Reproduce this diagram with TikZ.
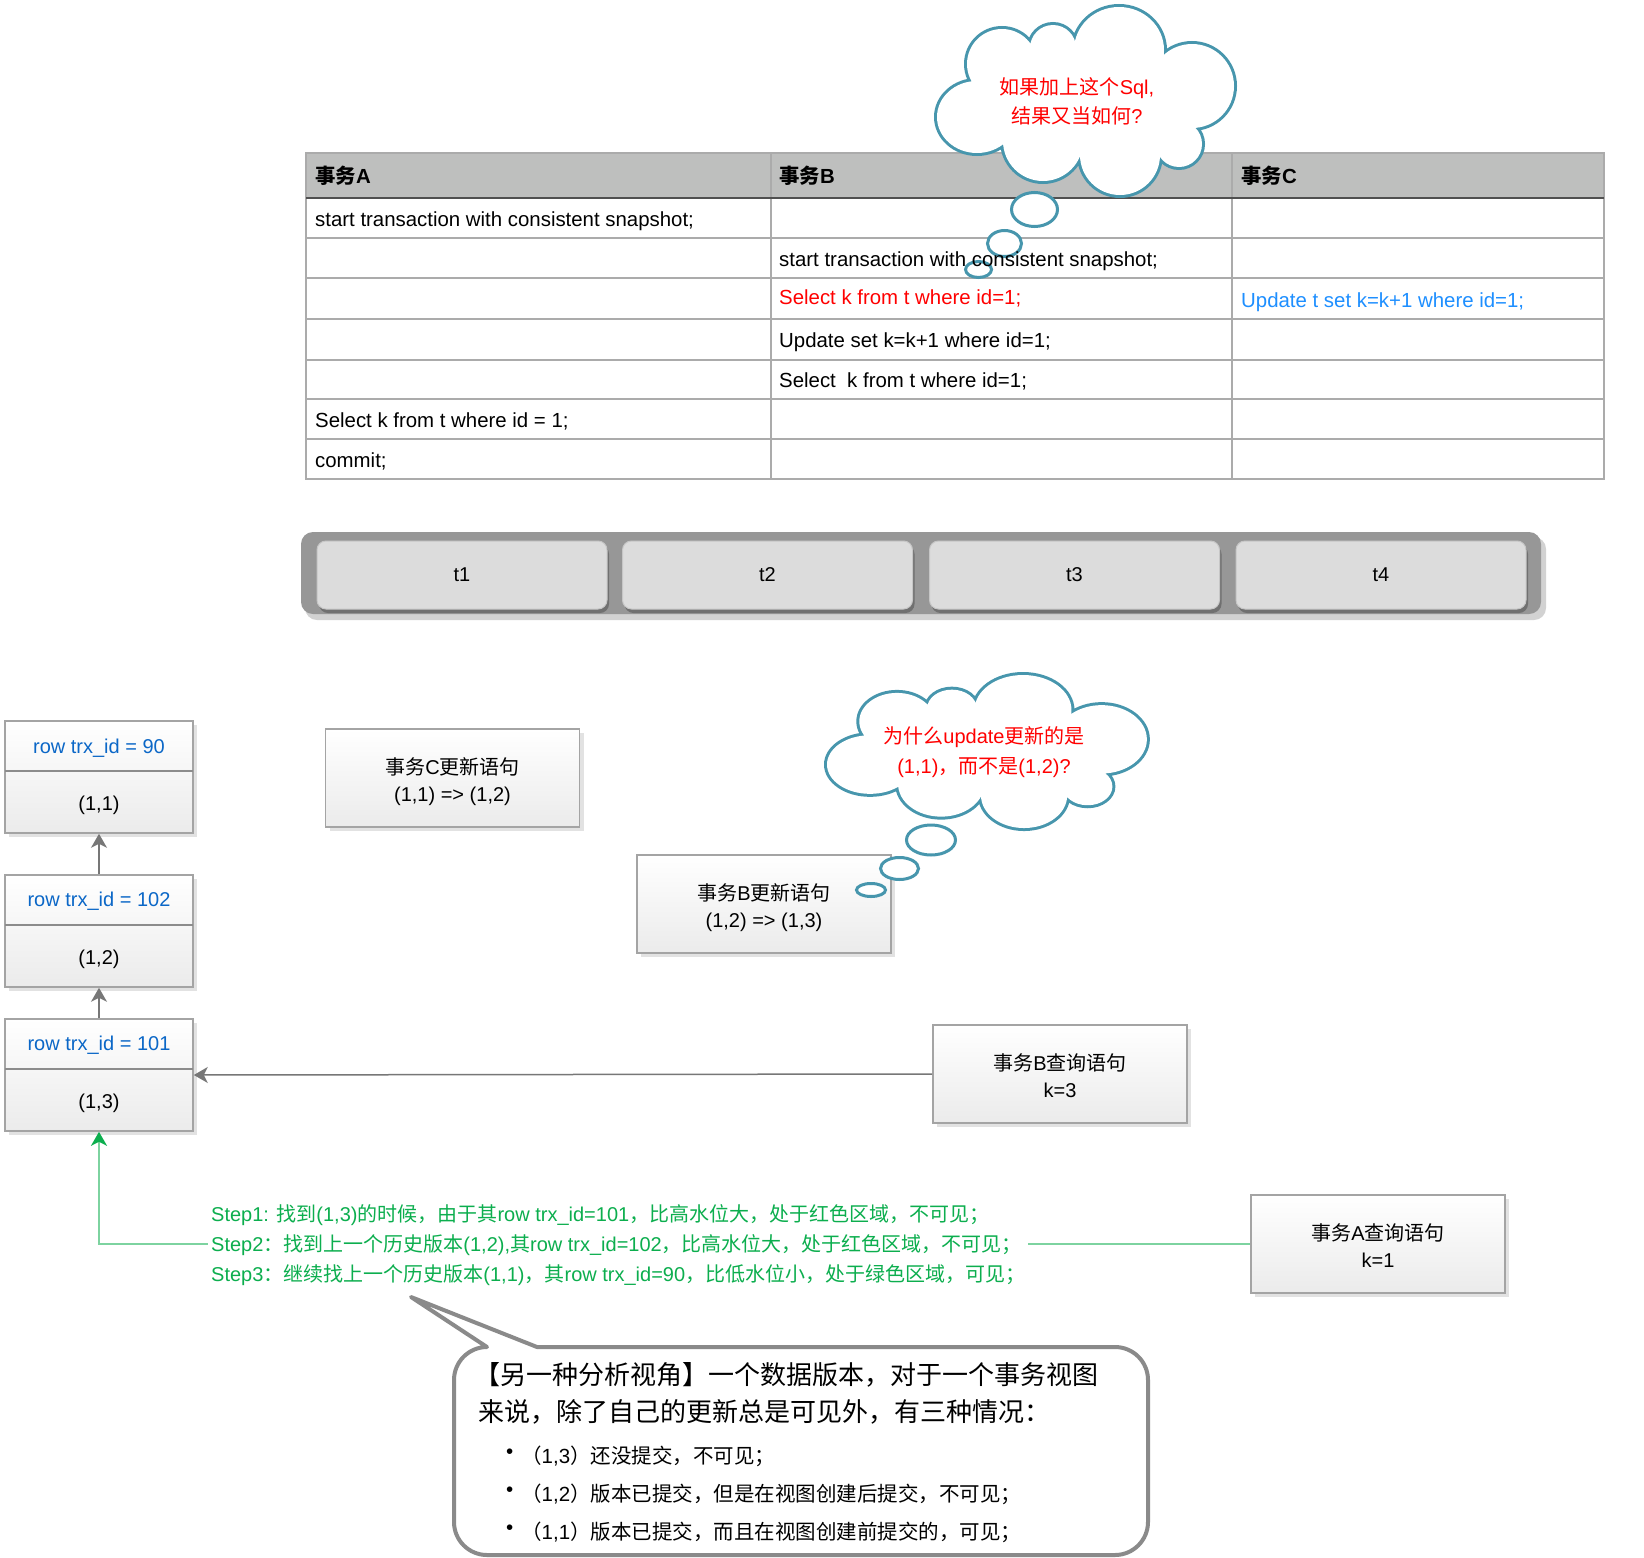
\documentclass[tikz,border=0pt]{standalone}
\usepackage{fontspec}
\setmainfont{Liberation Sans}
\newfontfamily\cjkfont{Noto Sans CJK SC}
\usetikzlibrary{arrows.meta,shadows}

\XeTeXinterchartokenstate=1
\chardef\CJKcls=10
\newcount\cjkcnt
\def\setcjkrange#1#2{\cjkcnt=#1\relax
  \loop\XeTeXcharclass\cjkcnt=\CJKcls\relax
    \advance\cjkcnt by 1\relax
  \ifnum\cjkcnt<#2\relax\repeat}
\setcjkrange{"4E00}{"A000}
\setcjkrange{"3000}{"3040}
\setcjkrange{"FF00}{"FFF0}
\XeTeXinterchartoks 0 \CJKcls = {\cjkfont}
\XeTeXinterchartoks 4095 \CJKcls = {\cjkfont}
\XeTeXinterchartoks \CJKcls 0 = {\rmfamily}
\XeTeXinterchartoks \CJKcls 4095 = {\rmfamily}

\definecolor{headgray}{HTML}{BEBFBE}
\definecolor{tlinec}{HTML}{ABABAB}
\definecolor{headline}{HTML}{505050}
\definecolor{cloudc}{HTML}{4796AD}
\definecolor{qred}{HTML}{FF0000}
\definecolor{qblue}{HTML}{1E8FFF}
\definecolor{vblue}{HTML}{0B67C7}
\definecolor{sgreen}{HTML}{0CAE4E}
\definecolor{lgreen}{HTML}{7DD3A0}
\definecolor{boxborder}{HTML}{A4A4A4}
\definecolor{boxbot}{HTML}{EBEBEB}
\definecolor{shadowc}{HTML}{E2E2E2}
\definecolor{agray}{HTML}{777777}
\definecolor{barc}{HTML}{979797}
\definecolor{barsh}{HTML}{D2D2D2}
\definecolor{btnc}{HTML}{DCDCDC}
\definecolor{btnedge}{HTML}{C6C6C6}
\definecolor{btnsh}{HTML}{707070}
\definecolor{callc}{HTML}{8A8A8A}
\definecolor{divc}{HTML}{8C8C8C}

\newcommand\cloudlobes{%
  (40,110) ellipse [x radius=40, y radius=36]
  (65,57) circle [radius=35]
  (116,41) circle [radius=23]
  (182,43) ellipse [x radius=45, y radius=43]
  (255,79) circle [radius=42]
  (242,137) circle [radius=23]
  (183,148) circle [radius=40]
  (106,134) circle [radius=40]}

\tikzset{
  cell/.style={anchor=west, inner sep=0pt, text height=14.5pt, text depth=4.5pt, font=\fontsize{20.4}{24}\selectfont},
  cellh/.style={cell, font=\fontsize{20.4}{24}\selectfont\bfseries},
  tline/.style={draw=tlinec, line width=1.2pt},
  bubble/.style={draw=cloudc, line width=3pt, fill=white},
  cloudtext/.style={text=qred, align=center, font=\fontsize{20}{29}\selectfont},
  boxshadow/.style={drop shadow={shadow xshift=4pt, shadow yshift=-4pt, fill=shadowc, opacity=1}},
  stmt/.style={draw=boxborder, line width=1.6pt, top color=white, bottom color=boxbot, minimum width=254pt, minimum height=98pt, align=center, text height=50pt, text depth=4pt, font=\fontsize{20}{27}\selectfont, boxshadow},
  ver/.style={draw=boxborder, line width=1.6pt, top color=white, bottom color=boxbot, minimum width=188pt, minimum height=112pt, inner sep=0pt, boxshadow},
  vid/.style={text=vblue, font=\fontsize{20}{24}\selectfont},
  vval/.style={font=\fontsize{20}{24}\selectfont},
  btn/.style={fill=btnc, draw=btnedge, line width=1pt, rounded corners=9pt, minimum width=290pt, minimum height=68pt, font=\fontsize{20}{24}\selectfont, drop shadow={shadow xshift=2pt, shadow yshift=-4pt, fill=btnsh, opacity=1}},
  grayarrow/.style={draw=agray, line width=1.5pt, -{Stealth[length=14pt,width=16pt,inset=4pt]}},
  greenarrow/.style={draw=lgreen, line width=2pt, -{Stealth[length=14pt,width=16pt,inset=4pt,color=sgreen]}},
  steptext/.style={text=sgreen, align=left, fill=white, inner xsep=3pt, inner ysep=2pt, font=\fontsize{20}{30}\selectfont},
  calloutbox/.style={draw=callc, line width=4pt, fill=white, line join=round},
  cotext/.style={anchor=west, inner sep=0pt, font=\fontsize{26}{30}\selectfont},
  bultext/.style={anchor=west, inner sep=0pt, font=\fontsize{20.5}{24}\selectfont},
}

\begin{document}
\begin{tikzpicture}[x=1pt,y=-1pt]
\useasboundingbox (0,0) rectangle (1644,1558);
\fill[white] (0,0) rectangle (1644,1558);

% ---------------- table ----------------
\fill[headgray] (306,153) rectangle (1604,198);
\draw[tline] (306,153) rectangle (1604,479);
\foreach \yy in {238,278,319,360,399,439} \draw[tline] (306,\yy) -- (1604,\yy);
\draw[tline] (771,153) -- (771,479);
\draw[tline] (1232,153) -- (1232,479);
\draw[headline, line width=1.5pt] (306,198) -- (1604,198);

% ---------------- cloud 1 ----------------
\begin{scope}[shift={(937,7)}]
  \draw[cloudc, line width=6pt] \cloudlobes;
  \fill[white] \cloudlobes (148,93) ellipse [x radius=110, y radius=55];
\end{scope}
\draw[bubble] (1034.5,209.5) ellipse [x radius=23, y radius=17];
\draw[bubble] (1004.5,243.5) ellipse [x radius=17, y radius=13];
\draw[bubble] (978.5,269.5) ellipse [x radius=13, y radius=8];
\node[cloudtext] (q1) at (1077,101) {如果加上这个Sql,\\结果又当如何?};

% table texts
\node[cellh] (hA) at (315,178) {事务A};
\node[cellh] (hB) at (779,178) {事务B};
\node[cellh] (hC) at (1241,178) {事务C};
\node[cell] (a1) at (315,221) {start transaction with consistent snapshot;};
\node[cell] (b2) at (779,261) {start transaction with consistent snapshot;};
\node[cell, text=qred] (b3) at (779,299) {Select k from t where id=1;};
\node[cell, text=qblue] (c3) at (1241,302) {Update t set k=k+1 where id=1;};
\node[cell] (b4) at (779,342) {Update set k=k+1 where id=1;};
\node[cell] (b5) at (779,382) {Select\ \ k from t where id=1;};
\node[cell] (a6) at (315,422) {Select k from t where id = 1;};
\node[cell] (a7) at (315,462) {commit;};

% ---------------- timeline ----------------
\fill[barsh, rounded corners=12pt] (305,537) rectangle (1546,620);
\fill[barc, rounded corners=12pt] (301,532) rectangle (1541,614);
\node[btn] (t1) at (462,575) {t1};
\node[btn] (t2) at (767.5,575) {t2};
\node[btn] (t3) at (1074.5,575) {t3};
\node[btn] (t4) at (1381,575) {t4};

% ---------------- version chain ----------------
\node[ver] (v1) at (99,777) {};
\draw[divc, line width=2pt] (5,771) -- (193,771);
\node[vid] (v1id) at (99,748) {row trx\_id = 90};
\node[vval] (v1val) at (99,805) {(1,1)};

\node[ver] (v2) at (99,931) {};
\draw[divc, line width=2pt] (5,925) -- (193,925);
\node[vid] (v2id) at (99,901) {row trx\_id = 102};
\node[vval] (v2val) at (99,959) {(1,2)};

\node[ver] (v3) at (99,1075) {};
\draw[divc, line width=2pt] (5,1069) -- (193,1069);
\node[vid] (v3id) at (99,1045) {row trx\_id = 101};
\node[vval] (v3val) at (99,1103) {(1,3)};

\draw[grayarrow] (v2.north) -- (v1.south);
\draw[grayarrow] (v3.north) -- (v2.south);

% ---------------- statements ----------------
\node[stmt] (cu) at (452.5,778) {事务C更新语句\\(1,1) => (1,2)};
\node[stmt] (bu) at (764,904) {事务B更新语句\\(1,2) => (1,3)};
\node[stmt] (bq) at (1060,1074) {事务B查询语句\\k=3};
\node[stmt] (aq) at (1378,1244) {事务A查询语句\\k=1};

\draw[grayarrow] (bq.west) -- (v3.east);

% ---------------- cloud 2 ----------------
\begin{scope}[shift={(827,675)}, xscale=1.077, yscale=0.814]
  \draw[cloudc, line width=6pt] \cloudlobes;
  \fill[white] \cloudlobes (148,93) ellipse [x radius=110, y radius=55];
\end{scope}
\draw[bubble] (931,840) ellipse [x radius=24.5, y radius=15];
\draw[bubble] (899.5,868.5) ellipse [x radius=19, y radius=11];
\draw[bubble] (871,890) ellipse [x radius=14.5, y radius=6.5];
\node[cloudtext, font=\fontsize{20}{30}\selectfont] (q2) at (984,752) {为什么update更新的是\\(1,1)，而不是(1,2)?};

% ---------------- green path ----------------
\draw[greenarrow] (aq.west) -| (v3.south);
\node[steptext, anchor=west] (steps) at (208,1245) {Step1: 找到(1,3)的时候，由于其row trx\_id=101，比高水位大，处于红色区域，不可见；\\Step2：找到上一个历史版本(1,2),其row trx\_id=102，比高水位大，处于红色区域，不可见；\\Step3：继续找上一个历史版本(1,1)，其row trx\_id=90，比低水位小，处于绿色区域，可见；};

% ---------------- callout ----------------
\draw[calloutbox] (537,1347) -- (1115,1347) arc[start angle=90,end angle=0,radius=33pt]
  -- (1148,1522) arc[start angle=0,end angle=-90,radius=33pt]
  -- (487,1555) arc[start angle=-90,end angle=-180,radius=33pt]
  -- (454,1380) arc[start angle=180,end angle=90,radius=33pt]
  -- (411,1297) -- cycle;
\node[cotext] (co1) at (474,1375) {【另一种分析视角】一个数据版本，对于一个事务视图};
\node[cotext] (co2) at (478,1412) {来说，除了自己的更新总是可见外，有三种情况：};
\node[bultext] (d1) at (506,1454) {•};
\node[bultext] (d2) at (506,1492) {•};
\node[bultext] (d3) at (506,1530) {•};
\node[bultext] (l1) at (521,1456) {（1,3）还没提交，不可见；};
\node[bultext] (l2) at (521,1494) {（1,2）版本已提交，但是在视图创建后提交，不可见；};
\node[bultext] (l3) at (521,1532) {（1,1）版本已提交，而且在视图创建前提交的，可见；};
\end{tikzpicture}
\end{document}
